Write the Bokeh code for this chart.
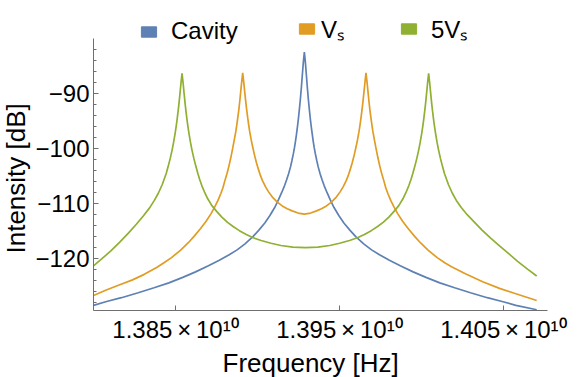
from bokeh.plotting import figure
from bokeh.models import FixedTicker, Range1d, Legend, LegendItem, Title
from bokeh.embed import file_html
from bokeh.resources import INLINE

# ---------------- data ----------------
cavity_freq = [1.380000e10, 1.380798e10, 1.381703e10, 1.382728e10, 1.383693e10, 1.384598e10,
               1.385442e10, 1.386226e10, 1.387010e10, 1.387673e10, 1.388276e10, 1.388759e10,
               1.389241e10, 1.389724e10, 1.390086e10, 1.390448e10, 1.390749e10, 1.391051e10,
               1.391292e10, 1.391473e10, 1.391654e10, 1.391774e10, 1.391895e10, 1.392016e10,
               1.392106e10, 1.392197e10, 1.392257e10, 1.392317e10, 1.392378e10, 1.392438e10,
               1.392498e10, 1.392558e10, 1.392619e10, 1.392679e10, 1.392739e10, 1.392800e10,
               1.392860e10,
               1.392920e10, 1.392981e10, 1.393041e10, 1.393101e10, 1.393162e10, 1.393222e10,
               1.393282e10, 1.393343e10, 1.393403e10, 1.393463e10, 1.393523e10, 1.393614e10,
               1.393704e10, 1.393825e10, 1.393946e10, 1.394066e10, 1.394247e10, 1.394428e10,
               1.394669e10, 1.394971e10, 1.395272e10, 1.395634e10, 1.395996e10, 1.396479e10,
               1.396961e10, 1.397444e10, 1.398047e10, 1.398710e10, 1.399494e10, 1.400278e10,
               1.401123e10, 1.402027e10, 1.402992e10, 1.404017e10, 1.404922e10, 1.405766e10,
               1.407033e10]
cavity_db = [-128.6, -127.9, -127.2, -126.3, -125.4, -124.5,
             -123.5, -122.5, -121.4, -120.4, -119.4, -118.5,
             -117.4, -116.1, -114.9, -113.6, -112.3, -110.8,
             -109.3, -108.1, -106.8, -105.8, -104.7, -103.4,
             -102.2, -100.9, -99.9, -98.8, -97.5, -96.1,
             -94.6, -92.9, -91.0, -88.9, -86.6, -84.3,
             -82.5,
             -84.3, -86.6, -88.9, -91.0, -92.9, -94.6,
             -96.1, -97.5, -98.8, -99.9, -100.9, -102.2,
             -103.4, -104.7, -105.8, -106.8, -108.1, -109.3,
             -110.8, -112.3, -113.6, -114.9, -116.1, -117.4,
             -118.5, -119.4, -120.4, -121.4, -122.5, -123.5,
             -124.5, -125.4, -126.3, -127.2, -127.9, -128.6,
             -129.4]

vs_freq = [1.380000e10, 1.380777e10, 1.381561e10, 1.382345e10, 1.383069e10, 1.383853e10,
           1.384275e10, 1.384758e10, 1.385300e10, 1.385783e10, 1.386145e10, 1.386507e10,
           1.386869e10, 1.387170e10, 1.387411e10, 1.387592e10, 1.387773e10, 1.387894e10,
           1.388014e10, 1.388135e10, 1.388256e10, 1.388376e10, 1.388497e10, 1.388587e10,
           1.388678e10, 1.388738e10, 1.388798e10, 1.388859e10, 1.388919e10, 1.388979e10,
           1.389040e10, 1.389100e10,
           1.389160e10, 1.389221e10, 1.389281e10, 1.389341e10, 1.389402e10, 1.389462e10,
           1.389522e10, 1.389613e10, 1.389703e10, 1.389824e10, 1.389944e10, 1.390065e10,
           1.390186e10, 1.390306e10, 1.390487e10, 1.390668e10, 1.390909e10, 1.391211e10,
           1.391512e10, 1.391814e10, 1.392116e10, 1.392477e10, 1.392860e10,
           1.393243e10, 1.393605e10, 1.393906e10, 1.394208e10, 1.394509e10, 1.394811e10,
           1.395052e10, 1.395233e10, 1.395414e10, 1.395534e10, 1.395655e10, 1.395776e10,
           1.395896e10, 1.396017e10, 1.396107e10, 1.396198e10, 1.396258e10, 1.396318e10,
           1.396379e10, 1.396439e10, 1.396499e10, 1.396560e10, 1.396620e10,
           1.396680e10, 1.396741e10, 1.396801e10, 1.396861e10, 1.396922e10, 1.396982e10,
           1.397042e10, 1.397133e10, 1.397223e10, 1.397344e10, 1.397464e10, 1.397585e10,
           1.397706e10, 1.397826e10, 1.397947e10, 1.398128e10, 1.398309e10, 1.398550e10,
           1.398852e10, 1.399213e10, 1.399575e10, 1.399937e10, 1.400420e10, 1.400962e10,
           1.401445e10, 1.401867e10, 1.402651e10, 1.403737e10, 1.404762e10, 1.405667e10,
           1.407030e10]
vs_db = [-126.8, -125.8, -124.9, -124.0, -123.0, -121.7,
         -120.9, -119.9, -118.6, -117.2, -116.0, -114.7,
         -113.3, -111.9, -110.6, -109.5, -108.2, -107.2,
         -105.9, -104.7, -103.3, -101.7, -99.9, -98.5,
         -97.0, -95.8, -94.5, -93.1, -91.5, -89.7,
         -87.9, -86.3,
         -87.9, -89.7, -91.4, -93.0, -94.4, -95.7,
         -96.9, -98.4, -99.7, -101.3, -102.7, -103.9,
         -105.0, -105.9, -107.0, -107.9, -108.9, -109.8,
         -110.5, -111.0, -111.4, -111.8, -112.0,
         -111.8, -111.4, -111.0, -110.5, -109.8, -108.9,
         -107.9, -107.0, -105.9, -105.0, -103.9, -102.7,
         -101.3, -99.7, -98.4, -96.9, -95.7, -94.4,
         -93.0, -91.4, -89.7, -87.9, -86.3,
         -87.9, -89.7, -91.5, -93.1, -94.5, -95.8,
         -97.0, -98.5, -99.9, -101.7, -103.3, -104.7,
         -105.9, -107.2, -108.2, -109.5, -110.6, -111.9,
         -113.3, -114.7, -116.0, -117.2, -118.6, -119.9,
         -120.9, -121.6, -122.8, -124.3, -125.5, -126.4,
         -127.7]

v5_freq = [1.380000e10, 1.380515e10, 1.381058e10, 1.381601e10, 1.382143e10, 1.382626e10,
           1.383048e10, 1.383410e10, 1.383711e10, 1.383953e10, 1.384194e10, 1.384314e10,
           1.384435e10,
           1.384556e10, 1.384676e10, 1.384797e10, 1.384887e10, 1.384978e10, 1.385038e10,
           1.385098e10, 1.385159e10, 1.385219e10, 1.385279e10, 1.385340e10, 1.385400e10,
           1.385460e10, 1.385521e10, 1.385581e10, 1.385641e10, 1.385702e10, 1.385762e10,
           1.385822e10, 1.385913e10, 1.386003e10, 1.386124e10, 1.386244e10, 1.386365e10,
           1.386486e10, 1.386606e10, 1.386787e10, 1.386968e10, 1.387209e10, 1.387511e10,
           1.387812e10, 1.388174e10, 1.388536e10, 1.388898e10, 1.389320e10, 1.389742e10,
           1.390225e10, 1.390828e10, 1.391431e10, 1.392155e10, 1.392920e10,
           1.393685e10, 1.394409e10, 1.395012e10, 1.395615e10, 1.396098e10, 1.396520e10,
           1.396942e10, 1.397304e10, 1.397666e10, 1.398028e10, 1.398329e10, 1.398631e10,
           1.398872e10, 1.399053e10, 1.399234e10, 1.399354e10, 1.399475e10, 1.399596e10,
           1.399716e10, 1.399837e10, 1.399927e10, 1.400018e10, 1.400078e10, 1.400138e10,
           1.400199e10, 1.400259e10, 1.400319e10, 1.400380e10, 1.400440e10,
           1.400500e10, 1.400561e10, 1.400621e10, 1.400681e10, 1.400742e10, 1.400802e10,
           1.400862e10, 1.400953e10, 1.401043e10, 1.401164e10, 1.401284e10,
           1.401405e10, 1.401526e10, 1.401646e10, 1.401887e10, 1.402129e10, 1.402430e10,
           1.402792e10, 1.403214e10, 1.403697e10, 1.404240e10, 1.404782e10, 1.405325e10,
           1.405868e10, 1.406471e10, 1.407030e10]
v5_db = [-121.4, -120.1, -118.7, -117.1, -115.4, -113.8,
         -112.3, -110.9, -109.5, -108.2, -106.6, -105.6,
         -104.6,
         -103.3, -101.9, -100.3, -98.9, -97.3, -96.1,
         -94.8, -93.3, -91.7, -89.9, -88.0, -86.4,
         -88.0, -89.9, -91.7, -93.3, -94.8, -96.1,
         -97.3, -98.9, -100.3, -101.9, -103.3, -104.6,
         -105.8, -106.8, -108.1, -109.2, -110.4, -111.5,
         -112.5, -113.5, -114.3, -115.0, -115.7, -116.3,
         -116.8, -117.3, -117.7, -118.0, -118.1,
         -118.0, -117.7, -117.3, -116.8, -116.3, -115.7,
         -115.0, -114.3, -113.5, -112.5, -111.5, -110.4,
         -109.2, -108.1, -106.8, -105.8, -104.6, -103.3,
         -101.9, -100.3, -98.9, -97.3, -96.1, -94.8,
         -93.3, -91.7, -89.9, -88.0, -86.4,
         -88.0, -89.9, -91.7, -93.3, -94.8, -96.1,
         -97.3, -98.9, -100.3, -101.9, -103.3,
         -104.6, -105.6, -106.6, -108.2, -109.5, -110.8,
         -112.1, -113.4, -114.9, -116.4, -117.8, -119.2,
         -120.6, -122.0, -123.25]

series_names = ["Cavity", "V\u209b", "5V\u209b"]
series_colors = ["#5E81B5", "#E19C24", "#8FB032"]

x_ticks = [1.385e10, 1.395e10, 1.405e10]
x_tick_labels = ["1.385\u2009\u00d7\u200910\u00b9\u2070",
                 "1.395\u2009\u00d7\u200910\u00b9\u2070",
                 "1.405\u2009\u00d7\u200910\u00b9\u2070"]
y_ticks = [-120, -110, -100, -90]
y_tick_labels = ["\u2212120", "\u2212110", "\u2212100", "\u221290"]
y_minor_ticks = [-128, -126, -124, -122, -118, -116, -114, -112, -108, -106, -104, -102,
                 -98, -96, -94, -92, -88, -86, -84, -82]
y_axis_span = (-129.53, -80.0)

x_label = "Frequency [Hz]"
y_label = "Intensity [dB]"

# ---------------- figure ----------------
FONT = "Liberation Sans"
AXIS_GRAY = "#6f6f6f"
NAN = float("nan")

# frame reaches up to the top so that the legend (drawn inside it) is not clipped;
# the y axis line itself is limited to the original plot range by `bounds`
p = figure(width=585, height=377, output_backend="svg", toolbar_location=None,
           x_range=Range1d(1.38000e10, 1.40769e10), y_range=Range1d(-129.53, -74.035),
           min_border_left=87, min_border_right=38, min_border_top=5, min_border_bottom=65)
p.grid.visible = False
p.outline_line_color = None
p.background_fill_color = "white"
p.border_fill_color = "white"

for series_x, series_y, color in [(cavity_freq, cavity_db, series_colors[0]),
                                  (vs_freq, vs_db, series_colors[1]),
                                  (v5_freq, v5_db, series_colors[2])]:
    p.line(series_x, series_y, line_color=color, line_width=1.7)

for ax in (p.xaxis[0], p.yaxis[0]):
    ax.axis_line_color = AXIS_GRAY
    ax.major_tick_line_color = AXIS_GRAY
    ax.minor_tick_line_color = AXIS_GRAY
    ax.major_tick_in = 5
    ax.major_tick_out = 0
    ax.minor_tick_in = 3
    ax.minor_tick_out = 0
    ax.major_label_text_font = FONT
    ax.major_label_text_font_size = "24px"
    ax.major_label_text_color = "black"

p.xaxis.ticker = FixedTicker(ticks=x_ticks, minor_ticks=[])
p.xaxis.major_label_overrides = dict(zip(x_ticks, x_tick_labels))
p.xaxis.major_label_standoff = 5

p.yaxis.ticker = FixedTicker(ticks=y_ticks, minor_ticks=y_minor_ticks)
p.yaxis.major_label_overrides = dict(zip(y_ticks, y_tick_labels))
p.yaxis.major_label_standoff = 4
p.yaxis.bounds = y_axis_span

# axis titles (as side titles so they can be placed like the reference)
p.add_layout(Title(text=x_label, align="left", offset=129, standoff=0,
                   text_font=FONT, text_font_size="26px", text_font_style="normal",
                   text_color="black"), "below")
p.add_layout(Title(text=y_label, align="left", offset=57, standoff=0,
                   vertical_align="top",
                   text_font=FONT, text_font_size="26px", text_font_style="normal",
                   text_color="black"), "left")

# legend: one entry per legend box; swatch renderers hold a single NaN row so
# that they draw nothing in the plot but still draw their legend swatch
legend_x = [46, 204, 306]
legend_gap = [13, 5, 13]
for name, color, lx, gap in zip(series_names, series_colors, legend_x, legend_gap):
    r = p.quad(left=[NAN], right=[NAN], top=[NAN], bottom=[NAN],
               fill_color=color, line_color=color)
    lg = Legend(items=[LegendItem(label=name, renderers=[r])], location=(lx, 265),
                glyph_width=19, glyph_height=13, label_standoff=gap,
                padding=0, margin=0, background_fill_alpha=0, border_line_color=None,
                label_text_font=FONT, label_text_font_size="24px",
                label_text_color="black")
    p.add_layout(lg)

open("out.html", "w").write(file_html(p, INLINE))
